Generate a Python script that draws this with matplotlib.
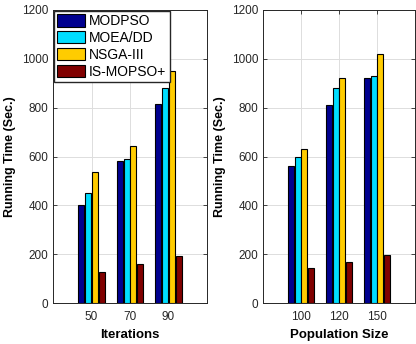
import matplotlib.pyplot as plt
import numpy as np

# ==== Data ====
methods = ["MODPSO", "MOEA/DD", "NSGA-III", "IS-MOPSO+"]
colors = ["#00008F", "#00DDFF", "#FFCC00", "#800000"]

iterations = ["50", "70", "90"]
iter_times = [
    [400, 580, 815],   # MODPSO
    [450, 588, 879],   # MOEA/DD
    [535, 644, 949],   # NSGA-III
    [125, 158, 191],   # IS-MOPSO+
]

pop_sizes = ["100", "120", "150"]
pop_times = [
    [560, 810, 920],
    [598, 882, 930],
    [632, 920, 1020],
    [143, 168, 198],
]

plt.rcParams['font.family'] = ['Liberation Sans', 'DejaVu Sans']

fig = plt.figure(figsize=(4.16, 3.44), dpi=100)
ax1 = fig.add_axes([53 / 416, 41 / 344, 154 / 416, 293 / 344])
ax2 = fig.add_axes([263 / 416, 41 / 344, 152 / 416, 293 / 344])


def draw(ax, labels, values, xlabel, legend=False):
    x = np.arange(1, len(labels) + 1)
    step = 0.177
    for i, (vals, c) in enumerate(zip(values, colors)):
        ax.bar(x + (i - 1.5) * step, vals, width=0.155, color=c,
               edgecolor="black", linewidth=0.8, label=methods[i], zorder=3)
    ax.set_xlim(0, 4)
    ax.set_ylim(0, 1200)
    ax.set_xticks(x)
    ax.set_xticklabels(labels)
    ax.set_yticks(range(0, 1201, 200))
    ax.grid(True, color="#dddddd", linewidth=0.7, zorder=0)
    ax.tick_params(direction="in", top=True, right=True, labelsize=8.5,
                   colors="#262626", length=3, width=0.6)
    ax.tick_params(axis="x", pad=6)
    for s in ax.spines.values():
        s.set_color("#262626")
        s.set_linewidth(0.7)
    ax.set_xlabel(xlabel, fontsize=9.5, fontweight="bold", labelpad=4)
    ax.set_ylabel("Running Time (Sec.)", fontsize=9, fontweight="bold", labelpad=4)
    if legend:
        ax.legend(loc="upper left", fontsize=10, frameon=True, fancybox=False,
                  edgecolor="#262626", framealpha=1, borderaxespad=0.05,
                  handlelength=2.0, handleheight=1.0, handletextpad=0.3,
                  labelspacing=0.2, borderpad=0.25)


draw(ax1, iterations, iter_times, "Iterations", legend=True)
draw(ax2, pop_sizes, pop_times, "Population Size")

fig.savefig("out.png", dpi=100)
